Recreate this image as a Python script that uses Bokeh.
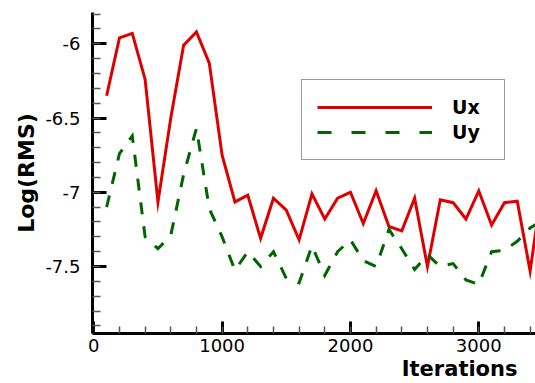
from bokeh.plotting import figure
from bokeh.models import FixedTicker, Range1d, Legend, LegendItem, Title
from bokeh.embed import file_html
from bokeh.resources import INLINE

# ---- data ----
iterations = [100, 200, 300, 400, 500, 600, 700, 800, 900, 1000,
              1100, 1200, 1300, 1400, 1500, 1600, 1700, 1800, 1900, 2000,
              2100, 2200, 2300, 2400, 2500, 2600, 2700, 2800, 2900, 3000,
              3100, 3200, 3300, 3400, 3500]
ux = [-6.35, -5.96, -5.93, -6.24, -7.065, -6.50, -6.01, -5.92, -6.13, -6.75,
      -7.065, -7.02, -7.31, -7.04, -7.12, -7.32, -7.01, -7.18, -7.04, -7.00,
      -7.21, -6.99, -7.23, -7.26, -7.04, -7.50, -7.05, -7.07, -7.18, -6.99,
      -7.22, -7.07, -7.06, -7.53, -6.93]
uy = [-7.10, -6.74, -6.62, -7.30, -7.38, -7.29, -6.88, -6.57, -7.11, -7.30,
      -7.525, -7.40, -7.50, -7.40, -7.58, -7.61, -7.36, -7.56, -7.40, -7.32,
      -7.46, -7.50, -7.25, -7.38, -7.52, -7.42, -7.50, -7.48, -7.59, -7.62,
      -7.40, -7.39, -7.33, -7.24, -7.19]

series_names = ["Ux", "Uy"]
x_ticks = [0, 1000, 2000, 3000]
x_tick_labels = ["0", "1000", "2000", "3000"]
x_minor_ticks = [0, 200, 400, 600, 800, 1000, 1200, 1400, 1600, 1800, 2000,
                 2200, 2400, 2600, 2800, 3000, 3200, 3400]
y_ticks = [-7.5, -7, -6.5, -6]
y_tick_labels = ["-7.5", "-7", "-6.5", "-6"]
y_minor_ticks = [-7.9, -7.8, -7.7, -7.6, -7.5, -7.4, -7.3, -7.2, -7.1, -7.0,
                 -6.9, -6.8, -6.7, -6.6, -6.5, -6.4, -6.3, -6.2, -6.1, -6.0,
                 -5.9, -5.8]
x_title = "Iterations"
y_title = "Log(RMS)"

RED = "#dd0000"
GREEN = "#006400"
FONT = "DejaVu Sans"
NAN = float("nan")

p = figure(width=535, height=383, output_backend="svg", toolbar_location=None,
           x_range=Range1d(-10, 3442), y_range=Range1d(-7.951, -5.789),
           min_border_left=92, min_border_right=0, min_border_top=12,
           min_border_bottom=50)
p.outline_line_color = None
p.xgrid.visible = False
p.ygrid.visible = False
p.background_fill_color = "white"
p.border_fill_color = "white"

p.xaxis.ticker = FixedTicker(ticks=x_ticks, minor_ticks=x_minor_ticks)
p.yaxis.ticker = FixedTicker(ticks=y_ticks, minor_ticks=y_minor_ticks)
p.xaxis.major_label_overrides = dict(zip(x_ticks, x_tick_labels))
p.yaxis.major_label_overrides = dict(zip(y_ticks, y_tick_labels))

for ax in (p.xaxis[0], p.yaxis[0]):
    ax.axis_line_width = 3
    ax.axis_line_color = "black"
    ax.major_tick_line_width = 3
    ax.major_tick_line_color = "black"
    ax.major_tick_out = 0
    ax.minor_tick_out = 0
    ax.minor_tick_line_width = 1.5
    ax.minor_tick_line_color = "#555555"
    ax.major_label_text_font = FONT
    ax.major_label_text_font_size = "18px"
    ax.major_label_text_color = "black"

p.yaxis.major_tick_in = 14
p.yaxis.minor_tick_in = 8
p.yaxis.major_label_standoff = 12
p.xaxis.major_tick_in = 12
p.xaxis.minor_tick_in = 7
p.xaxis.major_label_standoff = 5

p.yaxis.axis_label = y_title
p.yaxis.axis_label_text_font = FONT
p.yaxis.axis_label_text_font_style = "bold"
p.yaxis.axis_label_text_font_size = "22px"
p.yaxis.axis_label_text_color = "black"
p.yaxis.axis_label_standoff = 3

p.line(iterations, ux, line_color=RED, line_width=3, line_join="miter")
p.line(iterations, uy, line_color=GREEN, line_width=3, line_dash="12 12",
       line_join="miter")

# legend samples (single NaN point, invisible in the plot)
leg_ux = p.line([NAN], [NAN], line_color=RED, line_width=3)
leg_uy = p.line([NAN], [NAN], line_color=GREEN, line_width=3, line_dash="14 20")

legend = Legend(items=[LegendItem(label=series_names[0], renderers=[leg_ux]),
                       LegendItem(label=series_names[1], renderers=[leg_uy])],
                location=(209, 173))
legend.border_line_color = "#333333"
legend.border_line_width = 1.5
legend.background_fill_color = "white"
legend.background_fill_alpha = 1
legend.padding = 15
legend.spacing = 1
legend.margin = 0
legend.glyph_width = 115
legend.glyph_height = 24
legend.label_height = 24
legend.label_width = 37
legend.label_standoff = 20
legend.label_text_font = FONT
legend.label_text_font_style = "bold"
legend.label_text_font_size = "19px"
legend.label_text_color = "black"
p.add_layout(legend)

xtitle = Title(text=x_title, align="right", offset=18, standoff=0,
               text_font=FONT, text_font_style="bold", text_font_size="21px",
               text_color="black")
p.add_layout(xtitle, "below")

open("out.html", "w").write(file_html(p, INLINE))
